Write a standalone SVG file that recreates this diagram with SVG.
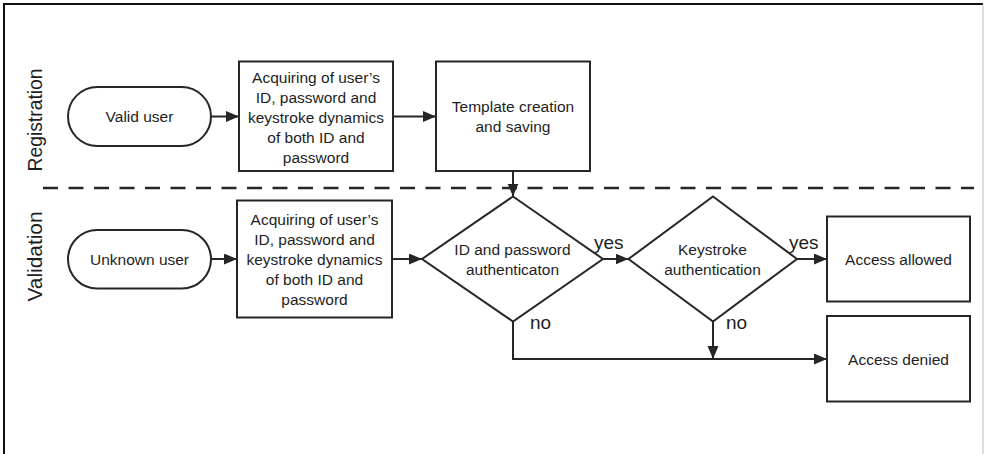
<svg xmlns="http://www.w3.org/2000/svg" width="985" height="454" viewBox="0 0 985 454">
<defs>
<style>
.shape{fill:#fff;stroke:#262626;stroke-width:2}
.conn{fill:none;stroke:#262626;stroke-width:2}
.t{font-family:"Liberation Sans",Arial,sans-serif;font-size:15.5px;fill:#1e1e1e;text-anchor:middle}
.lab{font-family:"Liberation Sans",Arial,sans-serif;font-size:19px;fill:#1e1e1e}
.lane{font-family:"Liberation Sans",Arial,sans-serif;font-size:20px;fill:#1e1e1e;text-anchor:middle}
</style>
<marker id="arr" markerUnits="userSpaceOnUse" markerWidth="14" markerHeight="12" refX="13" refY="5.5" orient="auto">
<path d="M0,0 L13,5.5 L0,11 z" fill="#262626"/>
</marker>
</defs>
<rect width="985" height="454" fill="#fff"/>
<g id="frame">
<path d="M4,454 V4 H983" fill="none" stroke="#111" stroke-width="2"/>
<path d="M983,4 V454" fill="none" stroke="#bbb" stroke-width="1"/>
</g>
<g id="lanes">
<text class="lane" transform="translate(42,120) rotate(-90)" textLength="103" lengthAdjust="spacingAndGlyphs">Registration</text>
<text class="lane" transform="translate(42,256.5) rotate(-90)" textLength="90" lengthAdjust="spacingAndGlyphs">Validation</text>
<line x1="43" y1="188" x2="974" y2="188" stroke="#262626" stroke-width="2.6" stroke-dasharray="15 10.5"/>
</g>
<g id="connectors">
<line class="conn" x1="211" y1="116.5" x2="239" y2="116.5" marker-end="url(#arr)"/>
<line class="conn" x1="393" y1="116.5" x2="436" y2="116.5" marker-end="url(#arr)"/>
<line class="conn" x1="513" y1="171" x2="513" y2="196.5" marker-end="url(#arr)"/>
<line class="conn" x1="211" y1="259" x2="237" y2="259" marker-end="url(#arr)"/>
<line class="conn" x1="392" y1="259" x2="422" y2="259" marker-end="url(#arr)"/>
<line class="conn" x1="603" y1="259" x2="628.5" y2="259" marker-end="url(#arr)"/>
<line class="conn" x1="797" y1="259" x2="827" y2="259" marker-end="url(#arr)"/>
<polyline class="conn" points="513,321.5 513,359 827,359" marker-end="url(#arr)"/>
<line class="conn" x1="713" y1="321.5" x2="713" y2="359" marker-end="url(#arr)"/>
<text class="lab" x="594" y="249">yes</text>
<text class="lab" x="789" y="249">yes</text>
<text class="lab" x="530" y="329">no</text>
<text class="lab" x="726" y="329">no</text>
</g>
<g id="valid-user">
<rect class="shape" x="68" y="87" width="143" height="59" rx="29.5"/>
<text class="t" x="139.5" y="122">Valid user</text>
</g>
<g id="acquire-reg">
<rect class="shape" x="239" y="61.5" width="154" height="109.5"/>
<text class="t" x="316" y="82.5">Acquiring of user’s</text>
<text class="t" x="316" y="102.5">ID, password and</text>
<text class="t" x="316" y="122.5">keystroke dynamics</text>
<text class="t" x="316" y="142.5">of both ID and</text>
<text class="t" x="316" y="162.5">password</text>
</g>
<g id="template">
<rect class="shape" x="436" y="61.5" width="154" height="109.5"/>
<text class="t" x="513" y="112">Template creation</text>
<text class="t" x="513" y="132">and saving</text>
</g>
<g id="unknown-user">
<rect class="shape" x="68" y="230" width="143" height="58.5" rx="29.25"/>
<text class="t" x="139.5" y="264.5">Unknown user</text>
</g>
<g id="acquire-val">
<rect class="shape" x="237" y="200.5" width="155" height="117"/>
<text class="t" x="314.5" y="225">Acquiring of user’s</text>
<text class="t" x="314.5" y="245">ID, password and</text>
<text class="t" x="314.5" y="265">keystroke dynamics</text>
<text class="t" x="314.5" y="285">of both ID and</text>
<text class="t" x="314.5" y="305">password</text>
</g>
<g id="id-auth">
<polygon class="shape" points="513,196.5 603,259 513,321.5 422,259"/>
<text class="t" x="512.5" y="254.5">ID and password</text>
<text class="t" x="512.5" y="275">authenticaton</text>
</g>
<g id="ks-auth">
<polygon class="shape" points="713,196.5 797,259 713,321.5 628.5,259"/>
<text class="t" x="712.5" y="254.5">Keystroke</text>
<text class="t" x="712.5" y="275">authentication</text>
</g>
<g id="allowed">
<rect class="shape" x="827" y="216.5" width="143" height="85"/>
<text class="t" x="898.5" y="264.5">Access allowed</text>
</g>
<g id="denied">
<rect class="shape" x="827" y="316" width="143" height="85.5"/>
<text class="t" x="898.5" y="364.5">Access denied</text>
</g>
</svg>
